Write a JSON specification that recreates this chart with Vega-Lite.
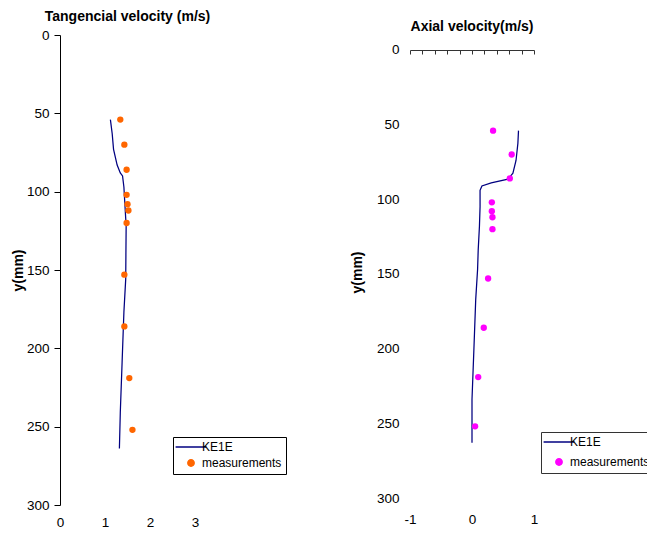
{
  "$schema": "https://vega.github.io/schema/vega-lite/v6.json",
  "padding": {"left": 11, "top": 10, "right": 0, "bottom": 0},
  "background": "white",
  "bounds": "flush",
  "spacing": 215,
  "config": {
    "font": "Liberation Sans",
    "view": {"stroke": null},
    "axis": {"grid": false, "labelFont": "Liberation Sans", "labelFontSize": 13.5, "labelColor": "black", "titleColor": "black", "titleFont": "Liberation Sans", "titleFontSize": 14, "titleFontWeight": "bold", "domainColor": "black", "tickColor": "black", "domainWidth": 1, "tickWidth": 1, "labelFlush": false},
    "title": {"font": "Liberation Sans", "fontSize": 14, "fontWeight": "bold", "color": "black", "anchor": "middle"},
    "legend": {"labelFont": "Liberation Sans", "labelColor": "black"}
  },
  "resolve": {"scale": {"color": "independent"}, "legend": {"color": "independent"}},
  "datasets": {
    "tang_model": [
      {"velocity": 1.12, "y": 54, "series": "KE1E"},
      {"velocity": 1.16, "y": 63, "series": "KE1E"},
      {"velocity": 1.19, "y": 73, "series": "KE1E"},
      {"velocity": 1.27, "y": 83, "series": "KE1E"},
      {"velocity": 1.34, "y": 88, "series": "KE1E"},
      {"velocity": 1.39, "y": 90, "series": "KE1E"},
      {"velocity": 1.42, "y": 97, "series": "KE1E"},
      {"velocity": 1.47, "y": 122, "series": "KE1E"},
      {"velocity": 1.46, "y": 156, "series": "KE1E"},
      {"velocity": 1.42, "y": 177, "series": "KE1E"},
      {"velocity": 1.38, "y": 209, "series": "KE1E"},
      {"velocity": 1.34, "y": 241, "series": "KE1E"},
      {"velocity": 1.32, "y": 264, "series": "KE1E"}
    ],
    "tang_meas": [
      {"velocity": 1.34, "y": 54, "series": "measurements"},
      {"velocity": 1.43, "y": 70, "series": "measurements"},
      {"velocity": 1.48, "y": 86, "series": "measurements"},
      {"velocity": 1.48, "y": 102, "series": "measurements"},
      {"velocity": 1.5, "y": 108, "series": "measurements"},
      {"velocity": 1.52, "y": 112, "series": "measurements"},
      {"velocity": 1.48, "y": 120, "series": "measurements"},
      {"velocity": 1.43, "y": 153, "series": "measurements"},
      {"velocity": 1.43, "y": 186, "series": "measurements"},
      {"velocity": 1.54, "y": 219, "series": "measurements"},
      {"velocity": 1.61, "y": 252, "series": "measurements"}
    ],
    "axial_model": [
      {"velocity": 0.75, "y": 54, "series": "KE1E"},
      {"velocity": 0.74, "y": 62.5, "series": "KE1E"},
      {"velocity": 0.71, "y": 74, "series": "KE1E"},
      {"velocity": 0.66, "y": 82.5, "series": "KE1E"},
      {"velocity": 0.58, "y": 86.5, "series": "KE1E"},
      {"velocity": 0.31, "y": 89, "series": "KE1E"},
      {"velocity": 0.16, "y": 91, "series": "KE1E"},
      {"velocity": 0.13, "y": 94, "series": "KE1E"},
      {"velocity": 0.13, "y": 105, "series": "KE1E"},
      {"velocity": 0.12, "y": 118, "series": "KE1E"},
      {"velocity": 0.1, "y": 134, "series": "KE1E"},
      {"velocity": 0.09, "y": 147, "series": "KE1E"},
      {"velocity": 0.06, "y": 167, "series": "KE1E"},
      {"velocity": 0.03, "y": 201, "series": "KE1E"},
      {"velocity": 0.0, "y": 234, "series": "KE1E"},
      {"velocity": 0.0, "y": 263, "series": "KE1E"}
    ],
    "axial_meas": [
      {"velocity": 0.34, "y": 54, "series": "measurements"},
      {"velocity": 0.64, "y": 70, "series": "measurements"},
      {"velocity": 0.61, "y": 86, "series": "measurements"},
      {"velocity": 0.32, "y": 102, "series": "measurements"},
      {"velocity": 0.32, "y": 108, "series": "measurements"},
      {"velocity": 0.33, "y": 112, "series": "measurements"},
      {"velocity": 0.33, "y": 120, "series": "measurements"},
      {"velocity": 0.26, "y": 153, "series": "measurements"},
      {"velocity": 0.19, "y": 186, "series": "measurements"},
      {"velocity": 0.1, "y": 219, "series": "measurements"},
      {"velocity": 0.05, "y": 252, "series": "measurements"}
    ]
  },
  "hconcat": [
    {
      "title": {"text": "Tangencial velocity (m/s)", "offset": 4},
      "width": 135,
      "height": 470,
      "layer": [
        {
          "data": {"name": "tang_model"},
          "mark": {"type": "line", "strokeWidth": 1.25},
          "encoding": {
            "x": {"field": "velocity", "type": "quantitative", "scale": {"domain": [0, 3], "nice": false}, "axis": {"values": [0, 1, 2, 3], "domain": false, "ticks": false, "labelPadding": 10, "title": null}},
            "y": {"field": "y", "type": "quantitative", "scale": {"domain": [0, 300], "reverse": true, "nice": false}, "axis": {"values": [0, 50, 100, 150, 200, 250, 300], "title": "y(mm)", "tickSize": 6, "labelPadding": 5, "titlePadding": 1}},
            "color": {"field": "series", "type": "nominal", "scale": {"domain": ["KE1E", "measurements"], "range": ["#000080", "#FF6600"]},
              "legend": {"title": null, "orient": "none", "legendX": 113, "legendY": 402, "strokeColor": "black", "fillColor": "white", "padding": 4, "labelFontSize": 12, "rowPadding": 3, "symbolSize": 625, "symbolOffset": 8, "labelOffset": 5,
                "encode": {"symbols": {"update": {
                  "shape": {"signal": "datum.value === 'KE1E' ? 'stroke' : 'circle'"},
                  "size": {"signal": "datum.value === 'KE1E' ? 950 : 40"},
                  "fill": {"signal": "datum.value === 'KE1E' ? 'transparent' : '#FF6600'"},
                  "stroke": {"signal": "datum.value === 'KE1E' ? '#000080' : 'transparent'"},
                  "strokeWidth": {"value": 1.5},
                  "opacity": {"value": 1}
                }}}}},
            "order": {"field": "y", "type": "quantitative"}
          }
        },
        {
          "data": {"name": "tang_meas"},
          "mark": {"type": "point", "filled": true, "size": 40, "opacity": 1},
          "encoding": {
            "x": {"field": "velocity", "type": "quantitative"},
            "y": {"field": "y", "type": "quantitative"},
            "color": {"field": "series", "type": "nominal", "scale": {"domain": ["KE1E", "measurements"], "range": ["#000080", "#FF6600"]}}
          }
        }
      ]
    },
    {
      "title": {"text": "Axial velocity(m/s)", "offset": 1},
      "width": 124,
      "height": 463,
      "resolve": {"axis": {"x": "independent"}},
      "layer": [
        {
          "data": {"name": "axial_model"},
          "mark": {"type": "line", "strokeWidth": 1.25},
          "encoding": {
            "x": {"field": "velocity", "type": "quantitative", "scale": {"domain": [-1, 1], "nice": false}, "axis": {"orient": "bottom", "values": [-1, 0, 1], "labelExpr": "'' + datum.value", "domain": false, "ticks": false, "labelPadding": 14, "title": null}},
            "y": {"field": "y", "type": "quantitative", "scale": {"domain": [-10.04, 300], "reverse": true, "nice": false, "zero": false}, "axis": {"values": [0, 50, 100, 150, 200, 250, 300], "title": "y(mm)", "domain": false, "ticks": false, "labelPadding": 11, "titlePadding": 12, "titleY": 237}},
            "color": {"field": "series", "type": "nominal", "scale": {"domain": ["KE1E", "measurements"], "range": ["#000080", "#FF00FF"]},
              "legend": {"title": null, "orient": "none", "legendX": 131, "legendY": 397, "strokeColor": "#333333", "fillColor": "white", "padding": 4, "labelFontSize": 12, "rowPadding": 7, "symbolSize": 625, "symbolOffset": 8, "labelOffset": 5,
                "encode": {"symbols": {"update": {
                  "shape": {"signal": "datum.value === 'KE1E' ? 'stroke' : 'circle'"},
                  "size": {"signal": "datum.value === 'KE1E' ? 950 : 40"},
                  "fill": {"signal": "datum.value === 'KE1E' ? 'transparent' : '#FF00FF'"},
                  "stroke": {"signal": "datum.value === 'KE1E' ? '#000080' : 'transparent'"},
                  "strokeWidth": {"value": 1.5},
                  "opacity": {"value": 1}
                }}}}},
            "order": {"field": "y", "type": "quantitative"}
          }
        },
        {
          "data": {"name": "axial_meas"},
          "mark": {"type": "point", "filled": true, "size": 40, "opacity": 1},
          "encoding": {
            "x": {"field": "velocity", "type": "quantitative", "axis": {"orient": "top", "offset": -15, "values": [-1, -0.8, -0.6, -0.4, -0.2, 0, 0.2, 0.4, 0.6, 0.8, 1], "labels": false, "tickSize": -4, "title": null, "domainColor": "#333333", "tickColor": "#333333"}},
            "y": {"field": "y", "type": "quantitative"},
            "color": {"field": "series", "type": "nominal", "scale": {"domain": ["KE1E", "measurements"], "range": ["#000080", "#FF00FF"]}}
          }
        }
      ]
    }
  ]
}
